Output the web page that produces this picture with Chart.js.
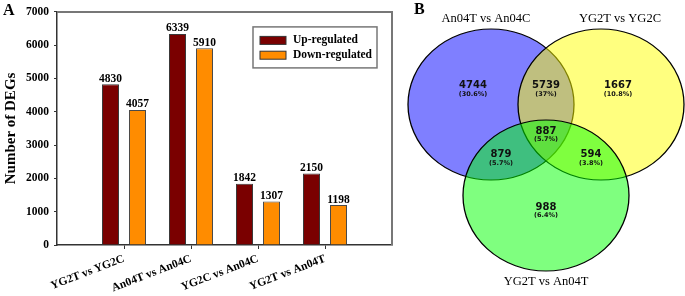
<!DOCTYPE html>
<html>
<head>
<meta charset="utf-8">
<style>
  html, body { margin: 0; padding: 0; background: #fff; }
  body { width: 685px; height: 296px; position: relative; overflow: hidden; }
  #barChart { position: absolute; left: 0; top: 0; }
  #vennChart { position: absolute; left: 395px; top: 0; }
</style>
</head>
<body>
<canvas id="barChart" width="395" height="296"></canvas>
<canvas id="vennChart" width="290" height="296"></canvas>

<script src="https://cdn.jsdelivr.net/npm/chart.js"></script>
<script>
// panel A data
var comparisons = ['YG2T vs YG2C', 'An04T vs An04C', 'YG2C vs An04C', 'YG2T vs An04T'];
var upRegulated = [4830, 6339, 1842, 2150];
var downRegulated = [4057, 5910, 1307, 1198];
var yTicks = [0, 1000, 2000, 3000, 4000, 5000, 6000, 7000];

// panel B data: region counts of the three-set Venn
var vennSets = ['An04T vs An04C', 'YG2T vs YG2C', 'YG2T vs An04T'];
var vennRegions = ['1 only', '1+2', '2 only', '1+2+3', '1+3', '2+3', '3 only'];
var vennCounts = [4744, 5739, 1667, 887, 879, 594, 988];

var serif = '"Liberation Serif", "Times New Roman", serif';
var sans = '"DejaVu Sans", sans-serif';

// ---------- panel A ----------
var barLabels = [''].concat(comparisons, ['']);
function pad(arr) { return [null].concat(arr, [null]); }

var framePlugin = {
    id: 'frame',
    beforeDatasetsDraw: function(chart) {
        var ctx = chart.ctx, a = chart.chartArea;
        ctx.save();
        ctx.strokeStyle = '#777';
        ctx.lineWidth = 2;
        ctx.beginPath();
        ctx.moveTo(a.left, a.top);
        ctx.lineTo(a.right, a.top);
        ctx.lineTo(a.right, a.bottom);
        ctx.stroke();
        ctx.restore();
    },
    afterDraw: function(chart) {
        var ctx = chart.ctx;
        ctx.save();
        ctx.fillStyle = '#000';
        ctx.font = 'bold 16px ' + serif;
        ctx.textBaseline = 'alphabetic';
        ctx.fillText('A', 3, 15);
        ctx.restore();
    }
};

var valueLabels = {
    id: 'valueLabels',
    afterDatasetsDraw: function(chart) {
        var ctx = chart.ctx;
        ctx.save();
        ctx.fillStyle = '#000';
        ctx.font = 'bold 11.5px ' + serif;
        ctx.textAlign = 'center';
        ctx.textBaseline = 'alphabetic';
        chart.data.datasets.forEach(function(ds, i) {
            chart.getDatasetMeta(i).data.forEach(function(bar, j) {
                if (ds.data[j] !== null) {
                    ctx.fillText(ds.data[j], bar.x, bar.y - 2.5);
                }
            });
        });
        ctx.restore();
    }
};

var boxLegend = {
    id: 'boxLegend',
    afterDraw: function(chart) {
        var ctx = chart.ctx, a = chart.chartArea;
        var right = a.right - 15, top = a.top + 15;
        var w = 124, h = 41, left = right - w;
        ctx.save();
        ctx.strokeStyle = '#777';
        ctx.lineWidth = 1.5;
        ctx.strokeRect(left, top, w, h);
        ctx.font = 'bold 11.5px ' + serif;
        ctx.textBaseline = 'middle';
        chart.data.datasets.forEach(function(ds, i) {
            var y = top + 13.5 + i * 14.8;
            ctx.fillStyle = ds.backgroundColor;
            ctx.fillRect(left + 7, y - 4, 26, 8);
            ctx.strokeStyle = '#333';
            ctx.lineWidth = 1;
            ctx.strokeRect(left + 7, y - 4, 26, 8);
            ctx.fillStyle = '#000';
            ctx.fillText(ds.label, left + 40, y);
        });
        ctx.restore();
    }
};

new Chart(document.getElementById('barChart'), {
    type: 'bar',
    data: {
        labels: barLabels,
        datasets: [
            { label: 'Up-regulated', data: pad(upRegulated), backgroundColor: '#7a0000', borderColor: '#3a3a3a', borderWidth: 1 },
            { label: 'Down-regulated', data: pad(downRegulated), backgroundColor: '#ff8c00', borderColor: '#4a4a4a', borderWidth: 1 }
        ]
    },
    options: {
        responsive: false,
        animation: false,
        events: [],
        categoryPercentage: 0.806,
        barPercentage: 0.63,
        layout: { padding: { top: 5, right: 3, left: 0, bottom: 0 } },
        plugins: { legend: { display: false }, tooltip: { enabled: false } },
        scales: {
            x: {
                offset: false,
                grid: {
                    offset: false,
                    drawOnChartArea: false,
                    tickLength: 4,
                    tickColor: function(c) {
                        return (c.index === 0 || c.index === barLabels.length - 1) ? 'rgba(0,0,0,0)' : '#333';
                    }
                },
                border: { color: '#333', width: 1.5 },
                ticks: {
                    autoSkip: false,
                    minRotation: 21,
                    maxRotation: 21,
                    padding: 3,
                    color: '#000',
                    font: { family: serif, size: 11.5, weight: 'bold' }
                },
                afterFit: function(s) {
                    s.height = 51;
                    s.paddingLeft = 0;
                    s.paddingRight = 0;
                }
            },
            y: {
                min: 0,
                max: 7000,
                afterBuildTicks: function(s) { s.ticks = yTicks.map(function(v) { return { value: v }; }); },
                grid: { drawOnChartArea: false, tickLength: 3, tickColor: '#333' },
                border: { color: '#333', width: 1.5 },
                ticks: {
                    padding: 5,
                    color: '#000',
                    font: { family: serif, size: 11.5, weight: 'bold' },
                    callback: function(v) { return String(v); }
                },
                title: {
                    display: true,
                    text: 'Number of DEGs',
                    color: '#000',
                    padding: { top: 2, bottom: 0 },
                    font: { family: serif, size: 15, weight: 'bold' }
                },
                afterFit: function(s) { s.width = 57; }
            }
        }
    },
    plugins: [framePlugin, valueLabels, boxLegend]
});

// ---------- panel B ----------
// layout of the venn panel, in panel units (1 unit = 1px)
var circleCenters = [[96, 104.5], [206, 104.5], [151, 195.5]];
var circleRadius = 83;
var circleSquash = 0.91;
var circleColors = ['rgba(0,0,255,0.5)', 'rgba(255,255,0,0.5)', 'rgba(0,255,0,0.5)'];
var regionLabelPos = [[78, 85.5], [151, 85.5], [223, 85.5], [151, 131], [106, 154.5], [196, 154.5], [151, 207]];
var setTitlePos = [[91, 22], [225, 22], [151, 285]];

var total = vennCounts.reduce(function(s, v) { return s + v; }, 0);
function pct(v) {
    return '(' + (v / total * 100).toFixed(1).replace(/\.0$/, '') + '%)';
}

var squash = {
    id: 'squash',
    beforeDatasetDraw: function(chart, args) {
        var pt = chart.getDatasetMeta(args.index).data[0];
        var ctx = chart.ctx;
        ctx.save();
        ctx.translate(pt.x, pt.y);
        ctx.scale(1, circleSquash);
        ctx.translate(-pt.x, -pt.y);
    },
    afterDatasetDraw: function(chart) {
        chart.ctx.restore();
    }
};

var vennText = {
    id: 'vennText',
    afterDatasetsDraw: function(chart) {
        var ctx = chart.ctx, xs = chart.scales.x, ys = chart.scales.y;
        ctx.save();
        ctx.textAlign = 'center';
        ctx.textBaseline = 'middle';
        ctx.fillStyle = '#111';
        vennCounts.forEach(function(v, i) {
            var x = xs.getPixelForValue(regionLabelPos[i][0]);
            var y = ys.getPixelForValue(regionLabelPos[i][1]);
            ctx.font = 'bold 10px ' + sans;
            ctx.fillText(v, x, y);
            ctx.font = 'bold 6.5px ' + sans;
            ctx.fillText(pct(v), x, y + 8.5);
        });
        ctx.fillStyle = '#000';
        ctx.textBaseline = 'alphabetic';
        ctx.font = '12.5px ' + serif;
        vennSets.forEach(function(name, i) {
            ctx.fillText(name, xs.getPixelForValue(setTitlePos[i][0]), ys.getPixelForValue(setTitlePos[i][1]));
        });
        ctx.textAlign = 'left';
        ctx.font = 'bold 16px ' + serif;
        ctx.fillText('B', 19, 14);
        ctx.restore();
    }
};

new Chart(document.getElementById('vennChart'), {
    type: 'bubble',
    data: {
        datasets: vennSets.map(function(name, i) {
            return {
                label: name,
                data: [{ x: circleCenters[i][0], y: circleCenters[i][1], r: circleRadius }],
                backgroundColor: circleColors[i],
                borderColor: '#000',
                borderWidth: 1.3,
                order: vennSets.length - i,   // first set at the bottom
                clip: false
            };
        })
    },
    options: {
        responsive: false,
        animation: false,
        events: [],
        layout: { padding: 0, autoPadding: false },
        plugins: { legend: { display: false }, tooltip: { enabled: false } },
        scales: {
            x: { type: 'linear', min: 0, max: 290, display: false },
            y: { type: 'linear', min: 0, max: 296, reverse: true, display: false }
        }
    },
    plugins: [squash, vennText]
});
</script>
</body>
</html>
